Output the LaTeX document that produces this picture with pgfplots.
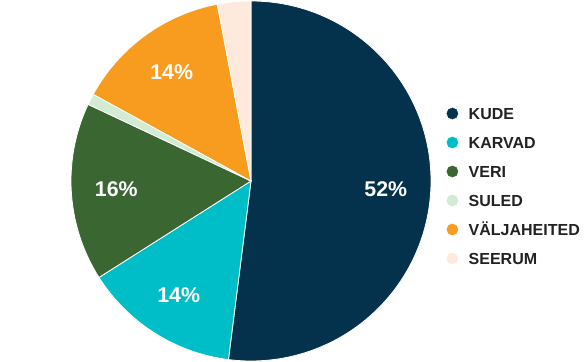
\documentclass[border=0pt]{standalone}
\usepackage{pgfplots}
\usepackage{pgfplotstable}
\pgfplotsset{compat=1.18}
\usepackage{fontspec}
\setmainfont{Liberation Sans}
\definecolor{kude}{HTML}{04324D}
\definecolor{karvad}{HTML}{00BEC8}
\definecolor{veri}{HTML}{3A6632}
\definecolor{suled}{HTML}{D2EBD3}
\definecolor{valja}{HTML}{F89C1F}
\definecolor{seerum}{HTML}{FEEADC}
\definecolor{legtext}{HTML}{222222}
\pgfplotstableread{
name value col
KUDE 52 kude
KARVAD 14 karvad
VERI 16 veri
SULED 1 suled
VÄLJAHEITED 14 valja
SEERUM 3 seerum
}\piedata
\tikzset{pielabel/.style={text=white, inner sep=0pt, font=\fontsize{21.3bp}{24bp}\selectfont\bfseries}}
\begin{document}
\begin{tikzpicture}
\begin{axis}[x=1bp, y=1bp, xmin=0, xmax=586, ymin=0, ymax=362,
  hide axis, scale only axis, clip=false,
  legend image code/.code={\fill[#1] (0bp,0bp) circle[radius=5.6bp];},
  legend style={at={(axis cs:446.4,254.5)}, anchor=north west, draw=none, fill=none,
    inner sep=0pt, row sep=17.4bp,
    font=\fontsize{16bp}{19bp}\selectfont\bfseries, text=legtext,
    nodes={inner sep=0pt, text height=11.5bp, text depth=0bp},
    /tikz/every odd column/.append style={column sep=10.5bp}},
  legend cell align=left]
\def\startang{90}
\pgfplotsforeachungrouped \i in {0,...,5}{%
  \pgfplotstablegetelem{\i}{value}\of\piedata \let\v\pgfplotsretval
  \pgfplotstablegetelem{\i}{col}\of\piedata \let\c\pgfplotsretval
  \pgfplotstablegetelem{\i}{name}\of\piedata \let\n\pgfplotsretval
  \pgfmathsetmacro\endang{\startang-3.6*\v}
  \pgfmathsetmacro\midang{(\startang+\endang)/2}
  \pgfmathsetmacro\lx{251+135*cos(\midang)}
  \pgfmathsetmacro\ly{181+135*sin(\midang)}
  \edef\temp{\noexpand\fill[\c, draw=white, line width=0.8bp] (axis cs:251,181) -- ++(\startang:180bp) arc[start angle=\startang, end angle=\endang, radius=180bp] -- cycle;
    \noexpand\addlegendimage{\c}\noexpand\addlegendentry{\n}}%
  \temp
  \ifdim\v pt>5pt
    \edef\temp{\noexpand\node[pielabel] at (axis cs:\lx,\ly) {\v\noexpand\%};}%
    \temp
  \fi
  \let\startang\endang
}
\end{axis}
\pgfresetboundingbox
\useasboundingbox (0,0) rectangle (586bp,362bp);
\end{tikzpicture}
\end{document}
